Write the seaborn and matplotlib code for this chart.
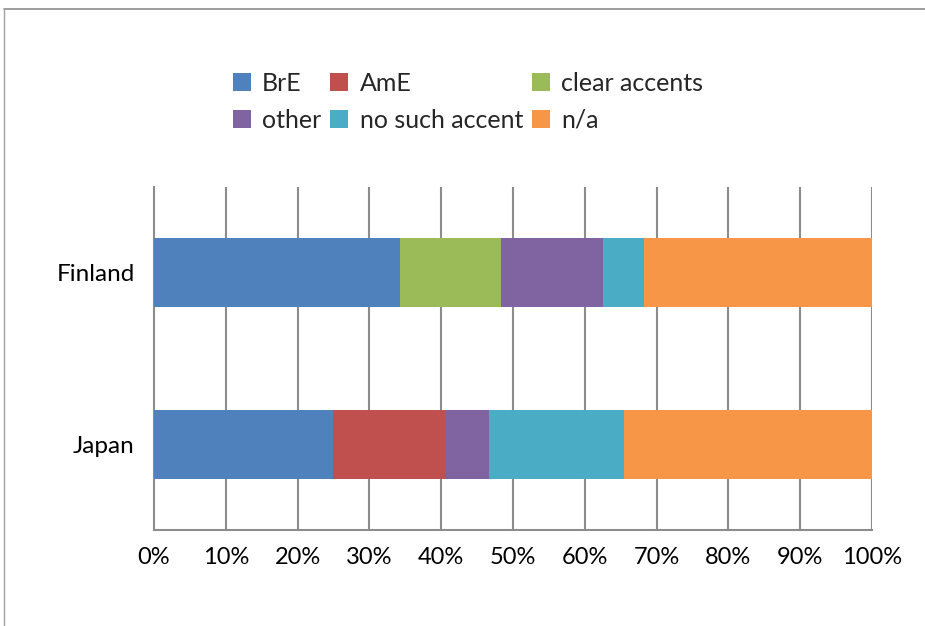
import matplotlib
matplotlib.use("Agg")
import matplotlib.pyplot as plt
import seaborn as sns
import numpy as np
import pandas as pd
from matplotlib.patches import Patch
from matplotlib.lines import Line2D

countries = ["Finland", "Japan"]
series = ["BrE", "AmE", "clear accents", "other", "no such accent", "n/a"]
BrE = [34.2, 24.9]
AmE = [0.0, 15.7]
clear_accents = [14.1, 0.0]
other = [14.3, 6.1]
no_such_accent = [5.7, 18.7]
n_a = [31.7, 34.6]
xticklabels = ["0%", "10%", "20%", "30%", "40%", "50%", "60%", "70%", "80%", "90%", "100%"]

colors = ["#4F81BD", "#C0504D", "#9BBB59", "#8064A2", "#4BACC6", "#F79646"]

sns.set_theme(style="white")
plt.rcParams["font.family"] = ["Lato", "DejaVu Sans"]

values = np.array([BrE, AmE, clear_accents, other, no_such_accent, n_a])
cum = np.cumsum(values, axis=0)

fig = plt.figure(figsize=(9.25, 6.26), dpi=100)
ax = fig.add_axes([154/925, 1-530/626, 718/925, (530-187)/626])

for i in range(len(series) - 1, -1, -1):
    df = pd.DataFrame({"country": countries, "value": cum[i]})
    sns.barplot(data=df, x="value", y="country", order=countries, orient="h",
                color=colors[i], width=0.4, saturation=1, ax=ax, zorder=3,
                edgecolor="none", linewidth=0)

ax.set_xlim(0, 100)
ax.set_ylim(1.5, -0.5)
ax.set_xticks(np.arange(0, 101, 10))
ax.set_xticklabels(xticklabels, fontsize=17, color="#000000")
ax.tick_params(axis="x", length=0, pad=12)
ax.tick_params(axis="y", length=0, pad=14, labelsize=17.5, labelcolor="#000000")
ax.set_xlabel("")
ax.set_ylabel("")
ax.grid(False)
for xv in np.arange(10, 101, 10):
    ax.axvline(xv, color="#8C8C8C", lw=1.5, zorder=1)
for s in ["top", "right"]:
    ax.spines[s].set_visible(False)
for s in ["bottom", "left"]:
    ax.spines[s].set_color("#8C8C8C")
    ax.spines[s].set_linewidth(1.5)
ax.spines["left"].set_zorder(0.5)

handles = [Patch(facecolor=c, edgecolor="none") for c in colors]
order = [0, 3, 1, 4, 2, 5]
fig.legend([handles[k] for k in order], [series[k] for k in order],
           ncol=3, loc="upper left", bbox_to_anchor=(233/925, 1-72/626),
           frameon=False, fontsize=18, handlelength=0.72, handleheight=0.72,
           handletextpad=0.45, columnspacing=0.35, labelspacing=0.55,
           borderaxespad=0, borderpad=0)

# chart border (top and left only visible)
fig.add_artist(Line2D([4/925, 1], [1-9/626, 1-9/626], transform=fig.transFigure,
                      color="#8C8C8C", lw=1.2))
fig.add_artist(Line2D([4/925, 4/925], [0, 1-9/626], transform=fig.transFigure,
                      color="#A0A0A0", lw=1.0))

fig.savefig("out.png", dpi=100)
